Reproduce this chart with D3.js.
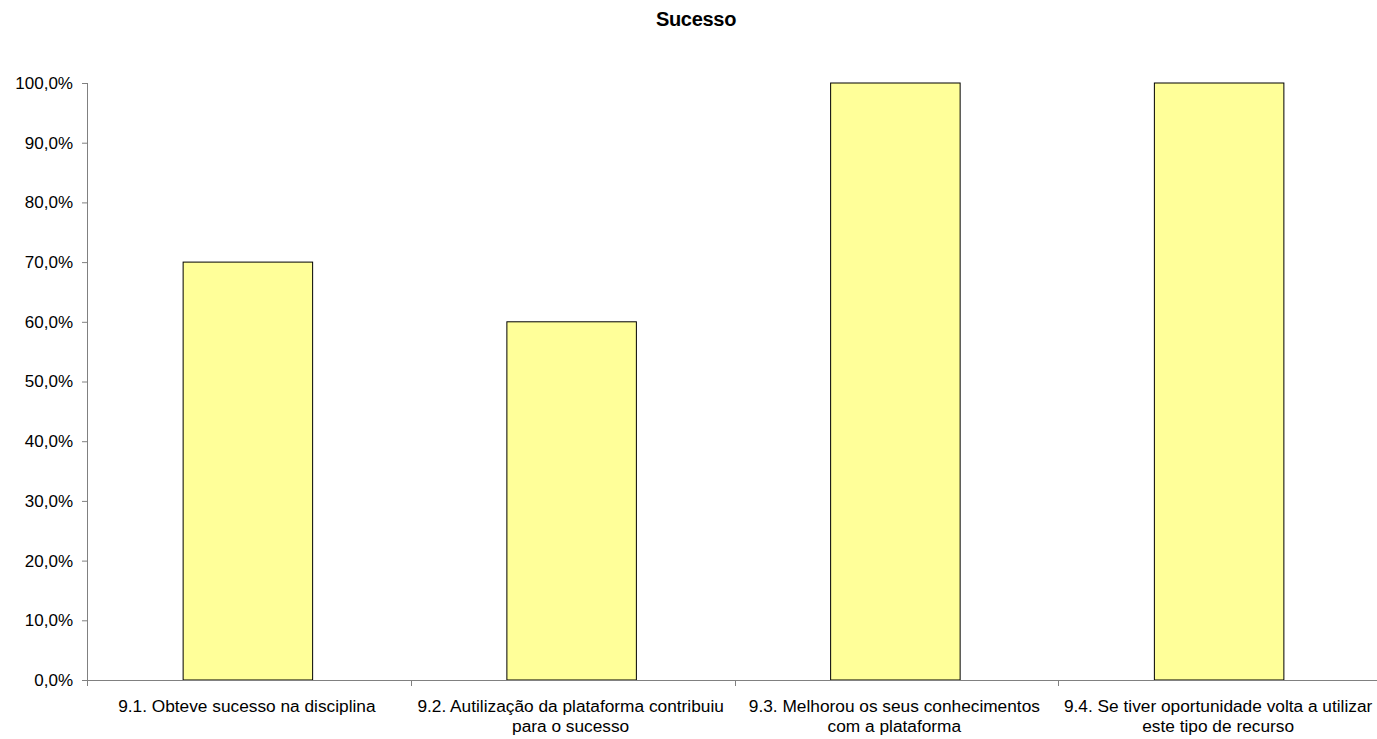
<!DOCTYPE html>
<html><head><meta charset="utf-8">
<script src="https://cdn.jsdelivr.net/npm/d3@7"></script>
<style>body{margin:0;background:#fff}svg{display:block;font-family:"Liberation Sans",Arial,sans-serif}</style>
</head><body>
<svg id="c" width="1377" height="739"></svg>
<script>
const title = "Sucesso";
const categories = [
  ["9.1. Obteve sucesso na disciplina"],
  ["9.2. Autilização da plataforma contribuiu", "para o sucesso"],
  ["9.3. Melhorou os seus conhecimentos", "com a plataforma"],
  ["9.4. Se tiver oportunidade volta a utilizar", "este tipo de recurso"]
];
const values = [0.70, 0.60, 1.00, 1.00];
const yTicks = [0, 0.1, 0.2, 0.3, 0.4, 0.5, 0.6, 0.7, 0.8, 0.9, 1.0];

(function () {
const svg = d3.select("#c");
const mL = 87, mR = 1382, mT = 83, mB = 680;
const ids = categories.map((d, i) => i);
const x = d3.scaleBand().domain(ids).range([mL, mR]).paddingInner(0).paddingOuter(0);
const y = d3.scaleLinear().domain([0, 1]).range([mB, mT]);
const barW = x.bandwidth() * 0.4;
const fmt = v => d3.format(".1f")(v * 100).replace(".", ",") + "%";

svg.append("text").attr("x", 696).attr("y", 26).attr("text-anchor", "middle")
  .attr("font-size", 20).attr("font-weight", "bold").attr("letter-spacing", -0.3).text(title);

svg.selectAll("rect.bar").data(values).join("rect").attr("class", "bar")
  .attr("x", (d, i) => x(i) + (x.bandwidth() - barW) / 2 - 1)
  .attr("y", d => y(d)).attr("width", barW).attr("height", d => y(0) - y(d))
  .attr("fill", "#ffff99").attr("stroke", "#000").attr("stroke-width", 1);

const ya = svg.append("g").attr("transform", `translate(${mL},0)`)
  .call(d3.axisLeft(y).tickValues(yTicks).tickFormat(fmt).tickSize(5).tickPadding(9));
ya.select(".domain").attr("stroke", "#808080").attr("d", `M0.5,${mT}V${mB}`);
ya.selectAll(".tick line").attr("stroke", "#808080");
ya.selectAll(".tick text").attr("font-size", 17).attr("fill", "#000").attr("font-family", "Liberation Sans, Arial, sans-serif");

const xa = svg.append("g").attr("transform", `translate(0,${mB})`);
xa.append("line").attr("x1", mL).attr("x2", mR).attr("y1", 0.5).attr("y2", 0.5).attr("stroke", "#808080");
const bounds = ids.map(i => x(i));
xa.selectAll("line.tk").data(bounds).join("line").attr("class", "tk")
  .attr("x1", d => Math.round(d) + 0.5).attr("x2", d => Math.round(d) + 0.5)
  .attr("y1", 0).attr("y2", 6).attr("stroke", "#808080");
xa.selectAll("text.lbl").data(categories).join("text").attr("class", "lbl")
  .attr("x", (d, i) => x(i) + x.bandwidth() / 2 - 2).attr("y", 32)
  .attr("text-anchor", "middle").attr("font-size", 17.3).attr("fill", "#000")
  .selectAll("tspan").data(d => d).join("tspan")
  .attr("x", function () { return this.parentNode.getAttribute("x"); })
  .attr("dy", (d, j) => j === 0 ? 0 : 20).text(d => d);
})();
</script>
</body></html>
